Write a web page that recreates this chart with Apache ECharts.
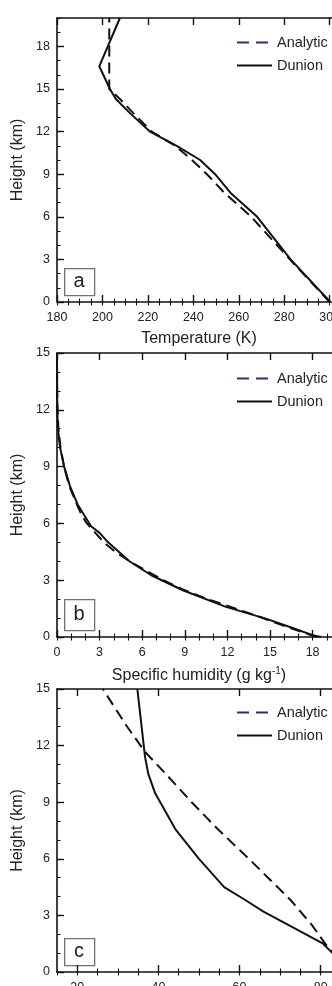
<!DOCTYPE html>
<html>
<head>
<meta charset="utf-8">
<script src="https://cdn.jsdelivr.net/npm/echarts@6/dist/echarts.min.js"></script>
<style>
  html, body { margin: 0; padding: 0; background: #fff; overflow: hidden; }
  #chart { width: 350px; height: 986px; }
</style>
</head>
<body>
<div id="chart"></div>
<script>
// panel a: temperature (K) vs height (km)
const tempHeightAnalytic = [0, 3, 6, 7.7, 9, 10, 11, 12, 13.3, 14.3, 15, 20]
const tempAnalytic = [300, 282.5, 265.5, 253.6, 246, 239.4, 232, 221.7, 213.6, 207.7, 203, 203]
const tempHeightDunion = [0, 3, 6, 7.7, 9, 10, 11, 12, 13.3, 14.3, 15, 16.6, 20]
const tempDunion = [300.3, 282.8, 268.1, 256.3, 249.6, 243, 232.7, 220.9, 212.1, 205.9, 203.3, 198.6, 207.7]

// panel b: specific humidity (g/kg) vs height (km)
const qHeightAnalytic = [0, 0.5, 1, 1.5, 2, 2.5, 3, 3.5, 4, 4.5, 5, 5.5, 6, 6.5, 7, 8, 9, 10, 11, 12, 13, 15]
const qAnalytic = [18.3, 16.3, 14.5, 12.6, 10.6, 8.9, 7.5, 6.3, 5.1, 4.1, 3.3, 2.7, 2.1, 1.7, 1.4, 0.85, 0.5, 0.25, 0.1, 0.04, 0.01, 0]
const qHeightDunion = [0, 0.1, 0.5, 0.97, 1.59, 2.47, 3.26, 4, 5, 5.5, 5.85, 7, 8, 9, 10, 11, 12, 13, 15]
const qDunion = [18.6, 18.0, 16.5, 14.7, 11.9, 8.86, 6.64, 5.1, 3.6, 3.0, 2.4, 1.45, 0.9, 0.5, 0.22, 0.06, 0.02, 0.01, 0]

// panel c: relative humidity (%) vs height (km)
const rhHeightAnalytic = [0.7, 1.5, 2.5, 3.83, 5, 6, 7.62, 9, 10.5, 11.67, 13, 14.76, 15]
const rhAnalytic = [84.2, 81.1, 77.8, 72.5, 67, 62.3, 54.4, 48.2, 41.8, 36.7, 32.3, 27.0, 26.3]
const rhHeightDunion = [0.7, 1.0, 1.5, 3.2, 3.83, 4.5, 6, 7.53, 9.47, 10.5, 11.4, 15]
const rhDunion = [84.5, 82.9, 80.6, 65.9, 61.3, 56.2, 50.0, 44.3, 39.2, 37.5, 36.7, 34.8]

// tick labels
const tempTicks = [180, 200, 220, 240, 260, 280, 300]
const qTicks = [0, 3, 6, 9, 12, 15, 18]
const rhTicks = [20, 40, 60, 80]
const heightTicksA = [0, 3, 6, 9, 12, 15, 18]
const heightTicksBC = [0, 3, 6, 9, 12, 15]

const seriesNames = ['Analytic', 'Dunion']
const panelLetters = ['a', 'b', 'c']

const FONT = 'Liberation Sans'
const INK = '#111'
const LABEL = '#222'

const chart = echarts.init(document.getElementById('chart'))

function pairs(xs, hs) {
  return xs.map((v, i) => [v, hs[i]])
}

const xAxes = []
const yAxes = []

// NCL-ish frame: inward major ticks from customValues, minor ticks from a second axis
function addX(grid, min, max, step, majors, name, nameRich) {
  const base = { type: 'value', gridIndex: grid, min: min, max: max, interval: step, splitLine: { show: false } }
  const line = { show: true, onZero: false, lineStyle: { color: INK, width: 1.6 } }
  const idx = xAxes.length
  xAxes.push(Object.assign({}, base, {
    position: 'bottom',
    axisLine: line,
    axisTick: { inside: true, length: 7, customValues: majors, lineStyle: { color: INK, width: 1.4 } },
    axisLabel: { customValues: majors, margin: 9, color: LABEL, fontFamily: FONT, fontSize: 12.5 },
    name: name,
    nameLocation: 'middle',
    nameGap: 29,
    nameTextStyle: { color: LABEL, fontFamily: FONT, fontSize: 16, rich: nameRich }
  }))
  xAxes.push(Object.assign({}, base, {
    position: 'bottom',
    axisLine: { show: false },
    axisTick: { inside: true, length: 3.5, lineStyle: { color: INK, width: 1.1 } },
    axisLabel: { show: false }
  }))
  xAxes.push(Object.assign({}, base, {
    position: 'top',
    axisLine: line,
    axisTick: { inside: true, length: 7, customValues: majors, lineStyle: { color: INK, width: 1.4 } },
    axisLabel: { show: false }
  }))
  xAxes.push(Object.assign({}, base, {
    position: 'top',
    axisLine: { show: false },
    axisTick: { inside: true, length: 3.5, lineStyle: { color: INK, width: 1.1 } },
    axisLabel: { show: false }
  }))
  return idx
}

function addY(grid, min, max, majors) {
  const base = { type: 'value', gridIndex: grid, min: min, max: max, interval: 1, splitLine: { show: false } }
  const idx = yAxes.length
  yAxes.push(Object.assign({}, base, {
    position: 'left',
    axisLine: { show: true, onZero: false, lineStyle: { color: INK, width: 1.6 } },
    axisTick: { inside: true, length: 7, customValues: majors, lineStyle: { color: INK, width: 1.4 } },
    axisLabel: { customValues: majors, margin: 7, color: LABEL, fontFamily: FONT, fontSize: 12.5 },
    name: 'Height (km)',
    nameLocation: 'middle',
    nameGap: 28,
    nameTextStyle: { color: LABEL, fontFamily: FONT, fontSize: 16 }
  }))
  yAxes.push(Object.assign({}, base, {
    position: 'left',
    axisLine: { show: false },
    axisTick: { inside: true, length: 3.5, lineStyle: { color: INK, width: 1.1 } },
    axisLabel: { show: false }
  }))
  return idx
}

// the figure is cropped on the right and bottom, so let the plots run past the canvas
const grids = [
  { left: 57, top: 18, width: 284, height: 284, outerBoundsMode: 'none' },
  { left: 57, top: 353, width: 284, height: 284, outerBoundsMode: 'none' },
  { left: 57, top: 689, width: 284, height: 283, outerBoundsMode: 'none' }
]

const xa = addX(0, 180, 305, 5, tempTicks, 'Temperature (K)')
const ya = addY(0, 0, 20, heightTicksA)
const xb = addX(1, 0, 20, 1, qTicks, 'Specific humidity (g kg{sup|-1})', {
  sup: { fontSize: 10, fontFamily: FONT, color: LABEL, verticalAlign: 'top', padding: [0, 0, 9, 0] }
})
const yb = addY(1, 0, 15, heightTicksBC)
const xc = addX(2, 15, 85, 5, rhTicks, '')
const yc = addY(2, 0, 15, heightTicksBC)

function profile(name, data, xi, yi) {
  const dashed = name === 'Analytic'
  return {
    name: name,
    type: 'line',
    xAxisIndex: xi,
    yAxisIndex: yi,
    data: data,
    symbol: 'none',
    smooth: false,
    silent: true,
    lineStyle: { color: INK, width: 2, type: dashed ? [11, 6] : 'solid' },
    itemStyle: { color: INK }
  }
}

const series = [
  profile('Analytic', pairs(tempAnalytic, tempHeightAnalytic), xa, ya),
  profile('Dunion', pairs(tempDunion, tempHeightDunion), xa, ya),
  profile('Analytic', pairs(qAnalytic, qHeightAnalytic), xb, yb),
  profile('Dunion', pairs(qDunion, qHeightDunion), xb, yb),
  profile('Analytic', pairs(rhAnalytic, rhHeightAnalytic), xc, yc),
  profile('Dunion', pairs(rhDunion, rhHeightDunion), xc, yc)
]

const legendTops = [35, 371, 705]
const legends = legendTops.map(t => ({
  orient: 'vertical',
  left: 236,
  top: t,
  padding: 0,
  itemWidth: 35,
  itemHeight: 14,
  itemGap: 8,
  selectedMode: false,
  itemStyle: { opacity: 0 },
  textStyle: { color: LABEL, fontFamily: FONT, fontSize: 14.5 },
  data: [
    { name: seriesNames[0], itemStyle: { opacity: 0 }, lineStyle: { color: '#2b3569', type: [12, 7], width: 2 } },
    { name: seriesNames[1], itemStyle: { opacity: 0 }, lineStyle: { color: INK, width: 2 } }
  ]
}))

// boxed panel letters
const boxes = [
  { y: 268, h: 27 },
  { y: 599, h: 31 },
  { y: 938, h: 27 }
]
const graphic = []
boxes.forEach((b, i) => {
  graphic.push({
    type: 'rect', left: 64, top: b.y, silent: true,
    shape: { width: 30, height: b.h },
    style: { fill: '#fff', stroke: '#707070', lineWidth: 1.3 }
  })
  graphic.push({
    type: 'text', x: 79, y: b.y + b.h / 2, silent: true,
    style: { text: panelLetters[i], fill: LABEL, font: '20px "' + FONT + '"', align: 'center', verticalAlign: 'middle' }
  })
})

chart.setOption({
  animation: false,
  grid: grids,
  xAxis: xAxes,
  yAxis: yAxes,
  legend: legends,
  graphic: graphic,
  series: series
})
</script>
</body>
</html>
